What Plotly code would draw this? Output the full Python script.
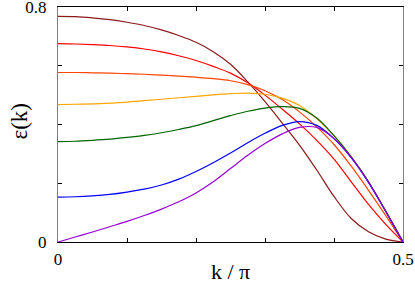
import plotly.graph_objects as go

k = [0, 0.025, 0.05, 0.075, 0.1, 0.125, 0.15, 0.175, 0.2, 0.225, 0.25, 0.275, 0.3, 0.325, 0.35, 0.375, 0.4, 0.425, 0.45, 0.475, 0.5]

maroon = [0.768, 0.767, 0.763, 0.757, 0.748, 0.737, 0.722, 0.703, 0.680, 0.648, 0.605, 0.545, 0.478, 0.405, 0.330, 0.245, 0.155, 0.080, 0.035, 0.010, 0.0]
red = [0.675, 0.674, 0.672, 0.669, 0.664, 0.657, 0.647, 0.634, 0.618, 0.598, 0.575, 0.542, 0.500, 0.452, 0.402, 0.346, 0.282, 0.205, 0.128, 0.060, 0.0]
orangered = [0.577, 0.577, 0.576, 0.575, 0.573, 0.571, 0.568, 0.565, 0.561, 0.556, 0.549, 0.536, 0.515, 0.485, 0.443, 0.392, 0.332, 0.258, 0.176, 0.090, 0.0]
orange = [0.468, 0.469, 0.470, 0.473, 0.476, 0.481, 0.486, 0.491, 0.496, 0.501, 0.505, 0.507, 0.503, 0.490, 0.465, 0.420, 0.362, 0.290, 0.205, 0.105, 0.0]
green = [0.342, 0.343, 0.346, 0.350, 0.356, 0.363, 0.372, 0.383, 0.396, 0.413, 0.430, 0.445, 0.456, 0.461, 0.455, 0.422, 0.362, 0.290, 0.205, 0.105, 0.0]
blue = [0.153, 0.154, 0.157, 0.162, 0.170, 0.180, 0.194, 0.214, 0.240, 0.270, 0.303, 0.338, 0.370, 0.397, 0.410, 0.397, 0.352, 0.287, 0.203, 0.104, 0.0]
purple = [0.0, 0.017, 0.034, 0.052, 0.070, 0.090, 0.112, 0.137, 0.167, 0.205, 0.250, 0.295, 0.335, 0.368, 0.390, 0.390, 0.352, 0.287, 0.203, 0.104, 0.0]

series = [
    (maroon, "#8b1a1a"),
    (red, "#ff0000"),
    (orangered, "#ff4500"),
    (orange, "#ffa500"),
    (green, "#006400"),
    (blue, "#0000ff"),
    (purple, "#9400d3"),
]

xticks = [0, 0.1, 0.2, 0.3, 0.4, 0.5]
xticktext = ["0", "", "", "", "", "0.5"]
yticks = [0, 0.2, 0.4, 0.6, 0.8]
yticktext = ["0", "", "", "", "0.8"]
xtitle = "k / π"
ytitle = "ε(k)"

fam = "Liberation Serif"

fig = go.Figure()
for vals, col in series:
    fig.add_trace(go.Scatter(x=k, y=vals, mode="lines",
                             line=dict(color=col, width=1.2, shape="spline", smoothing=1.0),
                             showlegend=False, hoverinfo="skip"))

tf = dict(family=fam, size=17, color="black")
fig.update_layout(
    width=415, height=283,
    margin=dict(l=58, r=12, t=7, b=41),
    paper_bgcolor="white", plot_bgcolor="white",
    font=dict(family=fam, size=17, color="black"),
    xaxis=dict(range=[0, 0.5], tickvals=xticks, ticktext=xticktext, ticks="inside", ticklen=4, tickcolor="black",
               tickfont=tf, ticklabelstandoff=2, ticklabeloverflow="allow",
               showgrid=False, zeroline=False, showline=True, linecolor="black", mirror="allticks",
               automargin=False),
    yaxis=dict(range=[0, 0.8], tickvals=yticks, ticktext=yticktext, ticks="inside", ticklen=4, tickcolor="black",
               tickfont=tf, ticklabelstandoff=7, ticklabeloverflow="allow",
               showgrid=False, zeroline=False, showline=True, linecolor="#808080", mirror="allticks",
               automargin=False),
    annotations=[
        dict(text=xtitle, xref="paper", yref="paper", x=0.5, y=0, xanchor="center", yanchor="middle",
             yshift=-29, showarrow=False, font=dict(family=fam, size=22, color="black")),
        dict(text=ytitle, xref="paper", yref="paper", x=0, y=0.5, xanchor="center", yanchor="middle",
             xshift=-39, yshift=3, textangle=-90, showarrow=False, font=dict(family=fam, size=23, color="black")),
    ],
)
fig.write_html("out.html", config={"displayModeBar": False},
               post_script="document.body.style.margin='0';document.body.style.overflow='hidden';")
